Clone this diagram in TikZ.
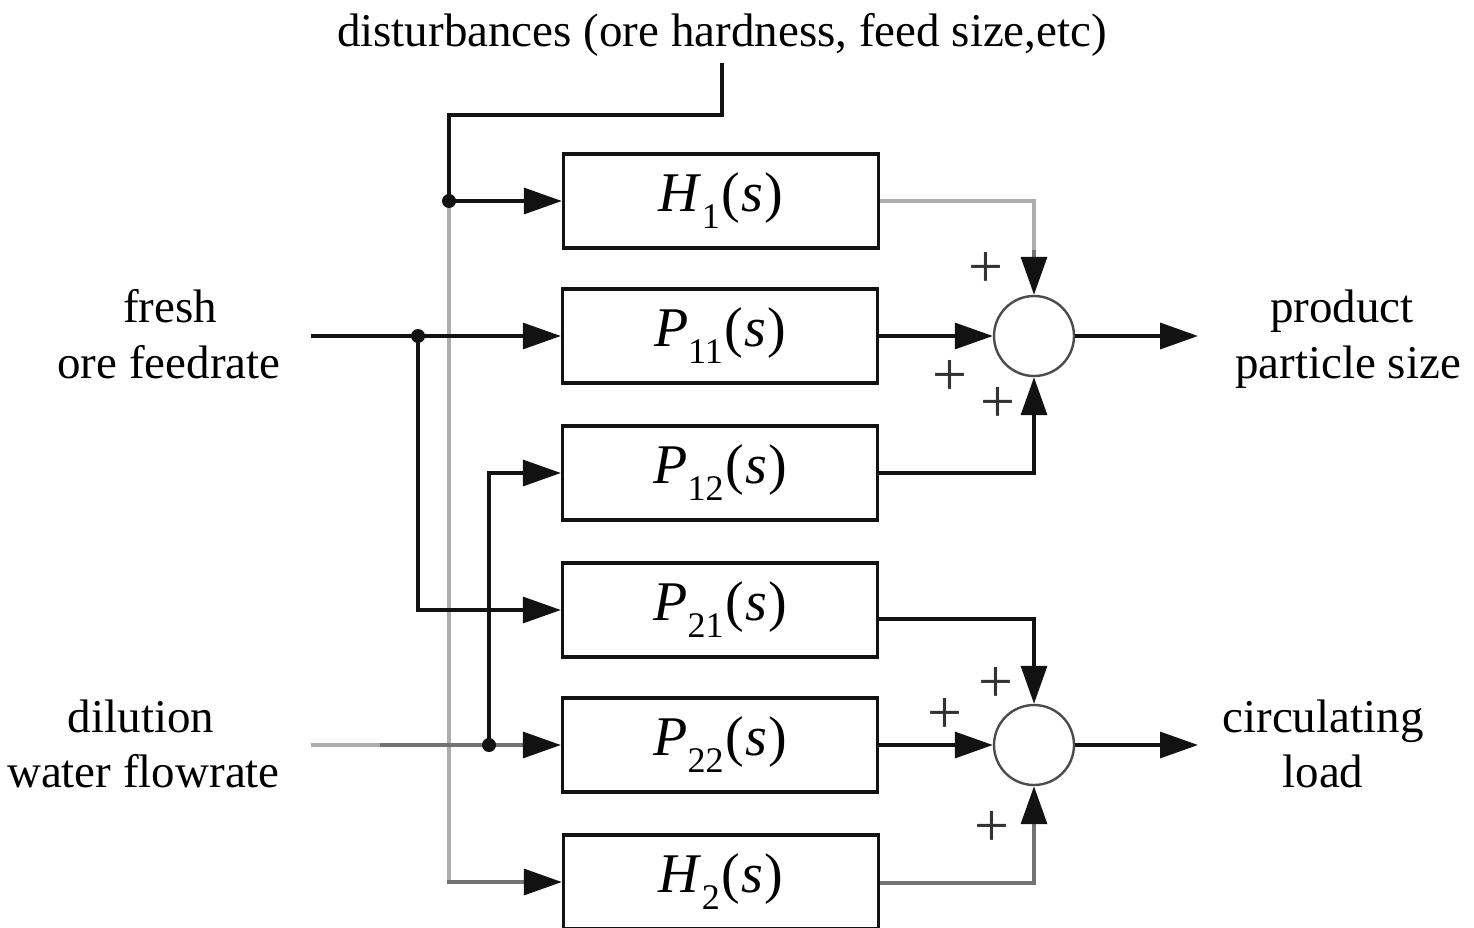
\documentclass[tikz,border=0pt]{standalone}
\usepackage{fontspec}
\setmainfont{Liberation Serif}
\usetikzlibrary{arrows.meta}
\newcommand\tfun[2]{\textit{#1}\raisebox{-17pt}{\fontsize{36}{36}\selectfont #2}\kern2pt(\kern1pt\textit{s}\kern1pt)}
\begin{document}
\begin{tikzpicture}[x=1pt,y=-1pt,
  wire/.style={line width=3.3pt,draw=black!93},
  lgray/.style={line width=3.3pt,draw=black!32},
  dgray/.style={line width=3.3pt,draw=black!55},
  arr/.style={-{Triangle[length=38pt,width=26pt,color=black!93]}},
  blk/.style={draw=black!93,line width=3.3pt,minimum width=315pt,minimum height=94pt,inner sep=0pt,font=\fontsize{56}{60}\selectfont},
  sumj/.style={circle,draw=black!70,line width=2.4pt,minimum size=80pt,inner sep=0pt},
  dot/.style={circle,fill=black!93,minimum size=14pt,inner sep=0pt},
  lab/.style={font=\fontsize{47}{57}\selectfont,inner sep=0pt,anchor=base},
  pl/.style={font=\fontsize{62}{62}\selectfont,inner sep=0pt,text=black!80}]
\useasboundingbox (0,0) rectangle (1474,928);
\begin{scope}
\clip (0,0) rectangle (1474,928);
% blocks
\node[blk] (H1) at (721,201) {\tfun{H}{1}};
\node[blk] (P11) at (720,336) {\tfun{P}{11}};
\node[blk] (P12) at (720,473) {\tfun{P}{12}};
\node[blk] (P21) at (720,610) {\tfun{P}{21}};
\node[blk] (P22) at (720,745) {\tfun{P}{22}};
\node[blk] (H2) at (721,882) {\tfun{H}{2}};
% summing junctions
\node[sumj] (S1) at (1034,336) {};
\node[sumj] (S2) at (1034,745) {};
% labels
\node[lab] (dist) at (722,47) {disturbances (ore hardness, feed size,etc)};
\node[lab] (fresh) at (170,322) {fresh};
\node[lab] (ore) at (169,378) {ore feedrate};
\node[lab] (dil) at (141,732) {dilution};
\node[lab,anchor=base east] (wat) at (280,787) {water flowrate};
\node[lab] (prod) at (1342,322) {product};
\node[lab] (part) at (1348,378) {particle size};
\node[lab] (circ) at (1323,732) {circulating};
\node[lab] (load) at (1323,787) {load};
% coordinates
\coordinate (dtop) at (722,63);
\coordinate (dcorner) at (722,115);
\coordinate (dsplit) at (449,201);
\coordinate (fin) at (311,336);
\coordinate (fsplit) at (418,336);
\coordinate (win) at (311,745);
\coordinate (wmid) at (380,745);
\coordinate (wsplit) at (489,745);
\coordinate (out1) at (1198,336);
\coordinate (out2) at (1198,745);
\coordinate (j1top) at (1034,250);
% disturbance path
\draw[wire] (dtop) -- (dcorner) -| (dsplit);
\draw[wire,arr] (dsplit) -- (H1.west);
\draw[lgray] (dsplit) -- (dsplit |- H2);
\draw[dgray,arr] ([xshift=-1.6pt]dsplit |- H2) -- (H2.west);
% fresh ore
\draw[wire,arr] (fin) -- (P11.west);
\draw[wire,arr] (fsplit) |- (P21.west);
% dilution water
\draw[lgray] (win) -- (wmid);
\draw[dgray,arr] (wmid) -- (P22.west);
\draw[wire,arr] (wsplit) |- (P12.west);
\node[dot] (d1) at (dsplit) {};
\node[dot] (d2) at (fsplit) {};
\node[dot] (d3) at (wsplit) {};
% outputs to junction 1
\draw[lgray] (H1.east) -| (j1top);
\draw[dgray,arr] (j1top) -- (S1.north);
\draw[wire,arr] (P11.east) -- (S1.west);
\draw[wire,arr] (P12.east) -| (S1.south);
\draw[wire,arr] (S1.east) -- (out1);
% outputs to junction 2
\draw[wire,arr] ([yshift=-9pt]P21.east) -| (S2.north);
\draw[wire,arr] (P22.east) -- (S2.west);
\draw[dgray,arr] ([yshift=-1pt]H2.east) -| (S2.south);
\draw[wire,arr] (S2.east) -- (out2);
% plus signs
\node[pl] (p1) at (986,270) {+};
\node[pl] (p2) at (950,378) {+};
\node[pl] (p3) at (998,405) {+};
\node[pl] (p4) at (996,685) {+};
\node[pl] (p5) at (945,716) {+};
\node[pl] (p6) at (992,829) {+};
\end{scope}
\end{tikzpicture}
\end{document}
